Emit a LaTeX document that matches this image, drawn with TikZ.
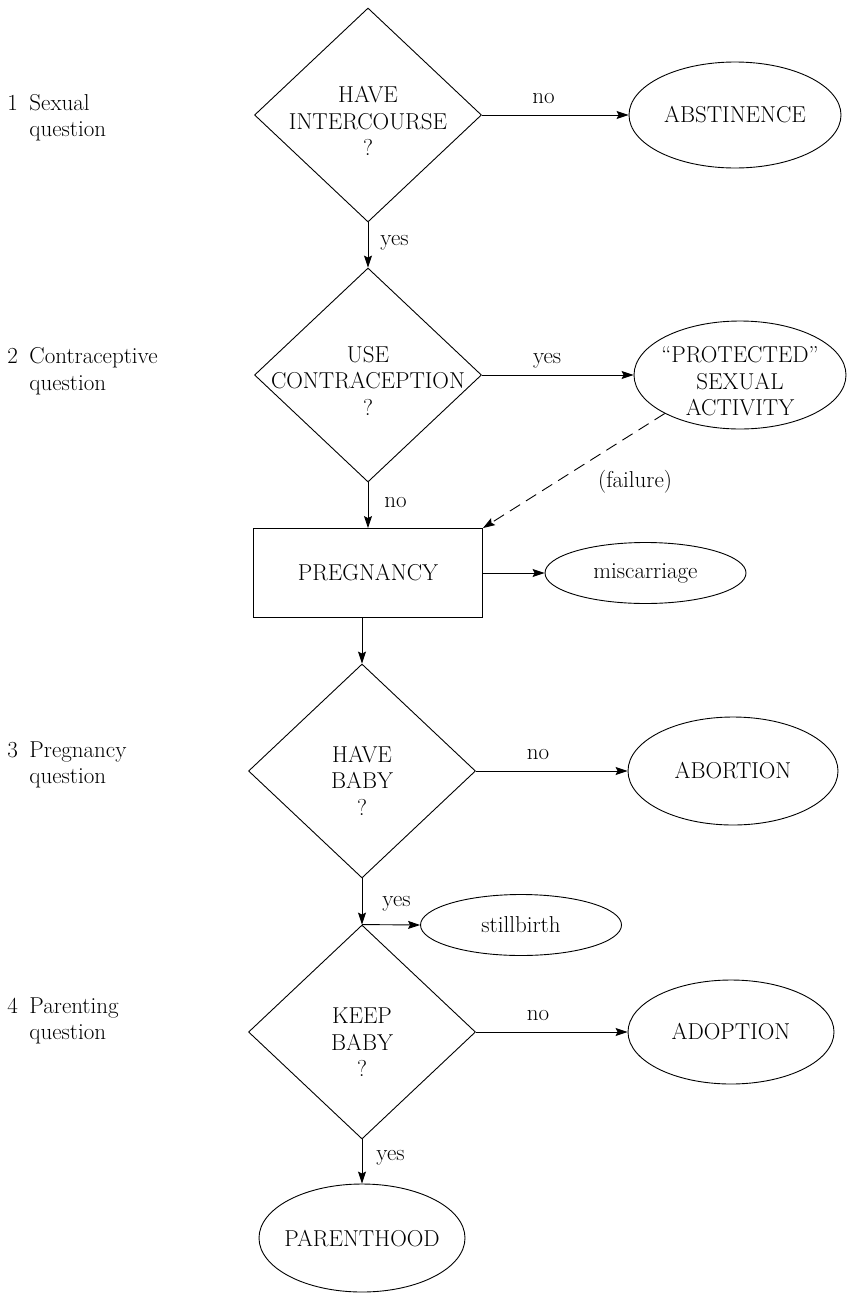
\documentclass[tikz,border=0pt]{standalone}
\usepackage{fontspec}
\usetikzlibrary{shapes.geometric, arrows.meta}

\begin{document}
\begin{tikzpicture}[x=1pt, y=-1pt,
  font=\fontsize{23}{26.5}\selectfont,
  line width=0.9pt,
  decision/.style={diamond, draw, inner sep=0pt, minimum width=227pt, minimum height=214pt},
  outcome/.style={ellipse, draw, inner sep=0pt},
  stage/.style={rectangle, draw, inner sep=0pt, minimum width=229pt, minimum height=89pt},
  caption/.style={align=center, inner sep=0pt},
  side/.style={anchor=base west, inner sep=0pt},
  flow/.style={-{Stealth[length=12pt, width=8pt, inset=2pt]}},
  hlab/.style={anchor=base, yshift=12pt, inner sep=0pt},
  vlab/.style={anchor=base west, inner sep=0pt},
]
\useasboundingbox (0,0) rectangle (847,1293);

% question stages on the left
\node[side] (q1a) at (7,110) {\makebox[22pt][l]{1}Sexual};
\node[side] (q1b) at (29,136) {question};
\node[side] (q2a) at (7,363) {\makebox[22pt][l]{2}Contraceptive};
\node[side] (q2b) at (29,390) {question};
\node[side] (q3a) at (7,757) {\makebox[22pt][l]{3}Pregnancy};
\node[side] (q3b) at (29,783) {question};
\node[side] (q4a) at (7,1013) {\makebox[22pt][l]{4}Parenting};
\node[side] (q4b) at (29,1039) {question};

% decisions
\node[decision] (d1) at (368,115) {};
\node[caption] (t1) at (368,121) {HAVE\\INTERCOURSE\\?};
\node[decision] (d2) at (368,375) {};
\node[caption] (t2) at (368,380.5) {USE\\CONTRACEPTION\\?};
\node[stage] (preg) at (368,573) {PREGNANCY};
\node[decision] (d3) at (362,771) {};
\node[caption] (t3) at (362,780.5) {HAVE\\BABY\\?};
\node[decision] (d4) at (362,1032) {};
\node[caption] (t4) at (362,1042.5) {KEEP\\BABY\\?};

% outcomes
\node[outcome, minimum width=212pt, minimum height=106pt] (abst) at (735,115) {ABSTINENCE};
\node[outcome, minimum width=212pt, minimum height=108pt] (prot) at (740,375) {};
\node[caption] (protT) at (740,381.5) {“PROTECTED”\\SEXUAL\\ACTIVITY};
\node[outcome, minimum width=201pt, minimum height=61pt] (misc) at (645.5,573) {miscarriage};
\node[outcome, minimum width=210pt, minimum height=108pt] (abort) at (733,771) {ABORTION};
\node[outcome, minimum width=201pt, minimum height=61pt] (still) at (521,925) {stillbirth};
\node[outcome, minimum width=206pt, minimum height=104pt] (adopt) at (731,1032) {ADOPTION};
\node[outcome, minimum width=206pt, minimum height=108pt] (park) at (362,1238) {};
\node[caption] (parkT) at (362,1239) {PARENTHOOD};

% connectors
\draw[flow] (d1.east) -- node[hlab, pos=0.42] {no} (abst.west);
\draw[flow] (d1.south) -- node[vlab, pos=0.52, xshift=12pt] {yes} (d2.north);
\draw[flow] (d2.east) -- node[hlab, pos=0.43] {yes} (prot.west);
\draw[flow, dash pattern=on 12pt off 7pt] (prot.south west) -- node[pos=0.35, xshift=34pt, yshift=-28pt] {(failure)} (preg.north east);
\draw[flow] (d2.south) -- node[vlab, pos=0.56, xshift=16pt] {no} (preg.north);
\draw[flow] (preg.east) -- (misc.west);
\draw[flow] (d3.north |- preg.south) -- (d3.north);
\draw[flow] (d3.east) -- node[hlab, pos=0.41] {no} (abort.west);
\draw[flow] (d3.south) -- node[vlab, pos=0.61, xshift=20pt] {yes} (d4.north);
\draw[flow] (d4.north) -- (still.west);
\draw[flow] (d4.east) -- node[hlab, pos=0.41] {no} (adopt.west);
\draw[flow] (d4.south) -- node[vlab, pos=0.48, xshift=14pt] {yes} (park.north);
\end{tikzpicture}
\end{document}
